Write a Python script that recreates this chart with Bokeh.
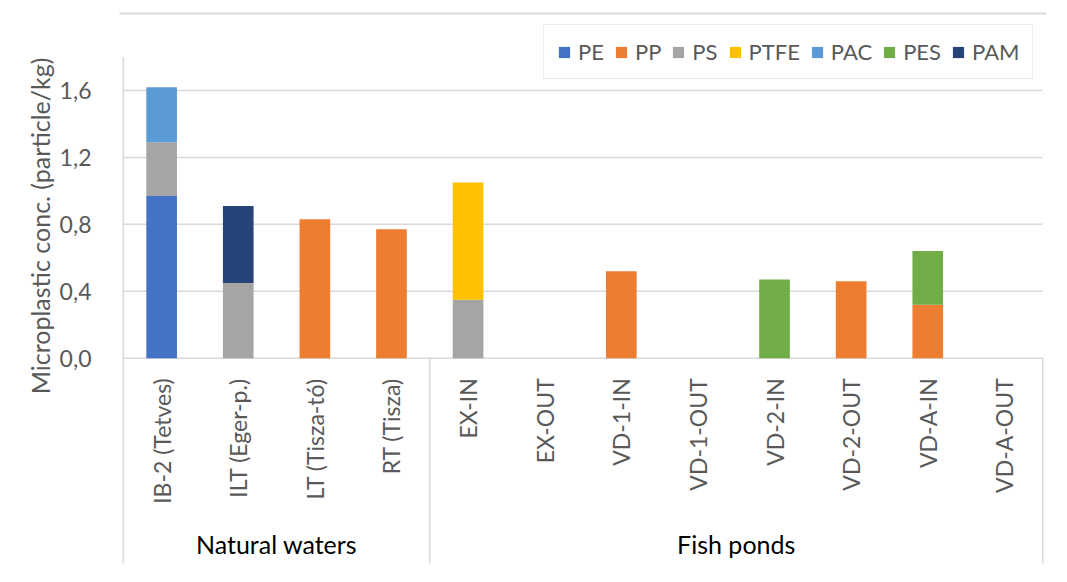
import math
from bokeh.plotting import figure
from bokeh.models import (ColumnDataSource, FactorRange, Range1d, FixedTicker,
                          CustomJSTickFormatter, Title, Legend, LegendItem,
                          Label, Node)
from bokeh.transform import dodge
from bokeh.core.properties import value
from bokeh.embed import file_html
from bokeh.resources import INLINE

# ---------------- data ----------------
groups = ["Natural waters"] * 4 + ["Fish ponds"] * 8
sites = ["IB-2 (Tetves)", "ILT (Eger-p.)", "LT (Tisza-tó)", "RT (Tisza)",
         "EX-IN", "EX-OUT", "VD-1-IN", "VD-1-OUT", "VD-2-IN", "VD-2-OUT",
         "VD-A-IN", "VD-A-OUT"]
polymers = ["PE", "PP", "PS", "PTFE", "PAC", "PES", "PAM"]
PE   = [0.97, 0,    0,    0,    0,    0, 0,    0, 0,    0,    0,    0]
PP   = [0,    0,    0.83, 0.77, 0,    0, 0.52, 0, 0,    0.46, 0.32, 0]
PS   = [0.32, 0.45, 0,    0,    0.35, 0, 0,    0, 0,    0,    0,    0]
PTFE = [0,    0,    0,    0,    0.70, 0, 0,    0, 0,    0,    0,    0]
PAC  = [0.33, 0,    0,    0,    0,    0, 0,    0, 0,    0,    0,    0]
PES  = [0,    0,    0,    0,    0,    0, 0,    0, 0.47, 0,    0.32, 0]
PAM  = [0,    0.46, 0,    0,    0,    0, 0,    0, 0,    0,    0,    0]
y_ticks = [0.0, 0.4, 0.8, 1.2, 1.6]
y_axis_max = 1.8
y_title = "Microplastic conc. (particle/kg)"
group_names = ["Natural waters", "Fish ponds"]

colors = ["#4472C4", "#ED7D31", "#A5A5A5", "#FFC000", "#5B9BD5", "#70AD47", "#264478"]

# ---------------- styling constants ----------------
FONT = "Lato"
TXT = "#595959"
GRID = "#D9D9D9"
label_top = -0.12      # where rotated category labels begin (below 0)
group_base = -1.108    # baseline of group labels
band_bottom = -1.227   # bottom of the category separator lines

factors = list(zip(groups, sites))
data = dict(x=factors, PE=PE, PP=PP, PS=PS, PTFE=PTFE, PAC=PAC, PES=PES, PAM=PAM)
source = ColumnDataSource(data)

x_range = FactorRange(factors=factors, factor_padding=0, group_padding=0,
                      subgroup_padding=0, range_padding=0.05,
                      range_padding_units="absolute")

p = figure(x_range=x_range, y_range=Range1d(-1.293, 2.138),
           width=1060, height=574, output_backend="svg", toolbar_location=None,
           x_axis_location=None, y_axis_location="left")
p.min_border = 0
p.min_border_left = 119
p.min_border_right = 14
p.outline_line_color = None
p.grid.visible = False

# chart-area border: a large empty box whose top and left edges fall inside the picture
p.add_layout(Label(x=Node(target="canvas", symbol="left", offset=11),
                   y=Node(target="canvas", symbol="top", offset=13),
                   text=" ", text_font_size="2px", padding=700,
                   text_align="left", text_baseline="top",
                   border_line_color=GRID, border_line_width=2,
                   background_fill_color=None))

# gridlines (incl. baseline) from first to last category boundary
gsrc = ColumnDataSource(dict(y=y_ticks, x0=[factors[0]] * len(y_ticks),
                             x1=[factors[-1]] * len(y_ticks)))
p.segment(x0=dodge("x0", -0.5, range=x_range), x1=dodge("x1", 0.5, range=x_range),
          y0="y", y1="y", source=gsrc, line_color=GRID, line_width=1.5)

# bars
renderers = p.vbar_stack(polymers, x="x", width=0.4, fill_color=colors,
                         line_color=None, source=source)

# separators
lsrc = ColumnDataSource(dict(x=[factors[0]], y0=[y_axis_max], y1=[band_bottom]))
p.segment(x0=dodge("x", -0.5, range=x_range), x1=dodge("x", -0.5, range=x_range),
          y0="y0", y1="y1", source=lsrc, line_color=GRID, line_width=1.5)
ends = [factors[i] for i in range(len(factors))
        if i == len(factors) - 1 or groups[i] != groups[i + 1]]
esrc = ColumnDataSource(dict(x=ends, y0=[0] * len(ends), y1=[band_bottom] * len(ends)))
p.segment(x0=dodge("x", 0.5, range=x_range), x1=dodge("x", 0.5, range=x_range),
          y0="y0", y1="y1", source=esrc, line_color=GRID, line_width=1.5)

# category labels
csrc = ColumnDataSource(dict(x=factors, y=[label_top] * len(factors), t=sites))
p.text(x="x", y="y", text="t", source=csrc, angle=math.pi / 2,
       text_align="right", text_baseline="middle",
       text_font=value(FONT), text_font_size="23px", text_color=TXT)

# group labels
gl = ColumnDataSource(dict(x=group_names, y=[group_base] * len(group_names), t=group_names))
p.text(x="x", y="y", text="t", source=gl, text_align="center",
       text_baseline="alphabetic", text_font=value(FONT),
       text_font_size="25px", text_color="#000000")

# y axis
p.yaxis.ticker = FixedTicker(ticks=y_ticks)
p.yaxis.formatter = CustomJSTickFormatter(code="return tick.toFixed(1).replace('.', ',');")
p.yaxis.axis_line_color = None
p.yaxis.major_tick_line_color = None
p.yaxis.minor_tick_line_color = None
p.yaxis.major_label_standoff = 22
p.yaxis.major_label_text_font = FONT
p.yaxis.major_label_text_font_size = "23px"
p.yaxis.major_label_text_color = TXT

title = Title(text=y_title, align="right", offset=57, text_font=FONT,
              text_font_size="25px", text_font_style="normal", text_color=TXT,
              standoff=4)
p.add_layout(title, "left")

legend = Legend(items=[LegendItem(label=n, renderers=[r]) for n, r in zip(polymers, renderers)],
                orientation="horizontal", location=(424, 495),
                border_line_color=GRID, border_line_width=1.5,
                padding=13, spacing=10, glyph_width=14, glyph_height=14,
                label_standoff=7, margin=0,
                label_text_font=FONT, label_text_font_size="22px",
                label_text_color=TXT)
p.add_layout(legend)

open("out.html", "w").write(file_html(p, INLINE))
